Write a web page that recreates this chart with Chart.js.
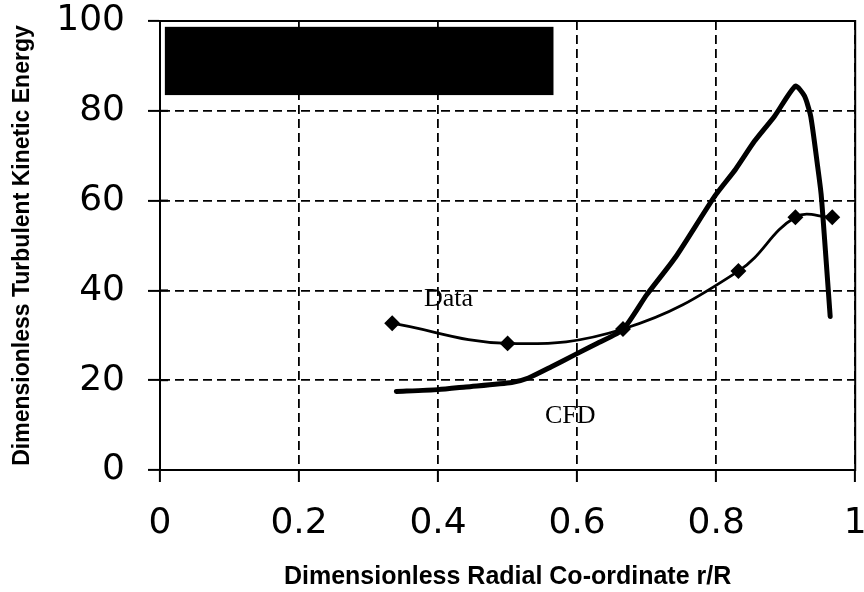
<!DOCTYPE html>
<html>
<head>
<meta charset="utf-8">
<script src="https://cdn.jsdelivr.net/npm/chart.js@4.4.0/dist/chart.umd.min.js"></script>
<style>
  html, body { margin: 0; padding: 0; background: #fff; }
  #marco { width: 864px; height: 592px; }
</style>
</head>
<body>
<div id="marco"><canvas id="plot"></canvas></div>
<script>
// Datos medidos (rombos)
const datosX = [0.334, 0.5, 0.666, 0.832, 0.914, 0.967];
const datosY = [32.7, 28.2, 31.4, 44.3, 56.3, 56.3];

// Curva CFD
const cfdX = [0.34, 0.40, 0.44, 0.506, 0.53, 0.563, 0.597, 0.63, 0.666, 0.70, 0.742, 0.798, 0.828, 0.855, 0.884, 0.914, 0.927, 0.936, 0.946, 0.951, 0.956, 0.964];
const cfdY = [17.5, 17.9, 18.5, 19.5, 20.5, 23.0, 25.7, 28.3, 31.3, 39.0, 47.5, 61.0, 67.0, 73.2, 78.8, 85.5, 83.3, 78.8, 67.6, 61.4, 51.3, 34.2];

// Ticks de los ejes
const ticksX = [0, 0.2, 0.4, 0.6, 0.8, 1];
const ticksY = [0, 20, 40, 60, 80, 100];

// Etiquetas dentro del grafico
const etiquetasTexto = ['Data', 'CFD'];
const etiquetasX = [0.415, 0.590];
const etiquetasY = [36.5, 10.5];

// Caja negra de la leyenda (en unidades de los ejes)
const cajaX = [0.007, 0.566];
const cajaY = [83.5, 98.7];

let puntos = (xs, ys) => xs.map((x, i) => ({x: x, y: ys[i]}));

let extras = {
  id: 'extras',
  afterDatasetsDraw(chart) {
    const {ctx, chartArea: a, scales: {x, y}} = chart;
    ctx.save();
    // caja negra
    ctx.fillStyle = '#000';
    let x0 = x.getPixelForValue(cajaX[0]), x1 = x.getPixelForValue(cajaX[1]);
    let y0 = y.getPixelForValue(cajaY[1]), y1 = y.getPixelForValue(cajaY[0]);
    ctx.fillRect(x0, y0, x1 - x0, y1 - y0);
    // marco solido
    ctx.strokeStyle = '#000';
    ctx.lineWidth = 2;
    ctx.strokeRect(a.left, a.top, a.right - a.left, a.bottom - a.top);
    // ticks hacia adentro en el eje y
    ticksY.forEach(v => {
      let py = y.getPixelForValue(v);
      ctx.beginPath();
      ctx.moveTo(a.left, py);
      ctx.lineTo(a.left + 8, py);
      ctx.stroke();
    });
    // textos
    ctx.fillStyle = '#000';
    ctx.font = '26px "Liberation Serif"';
    ctx.textAlign = 'center';
    ctx.textBaseline = 'alphabetic';
    etiquetasTexto.forEach((t, i) => {
      ctx.fillText(t, x.getPixelForValue(etiquetasX[i]), y.getPixelForValue(etiquetasY[i]));
    });
    ctx.restore();
  }
};

let config = {
  type: 'scatter',
  data: {
    datasets: [
      {
        label: 'Data',
        data: puntos(datosX, datosY),
        showLine: true,
        borderColor: '#000',
        backgroundColor: '#000',
        borderWidth: 2.8,
        tension: 0.4,
        pointStyle: 'rectRot',
        pointRadius: 6,
        pointHoverRadius: 6
      },
      {
        label: 'CFD',
        data: puntos(cfdX, cfdY),
        showLine: true,
        borderColor: '#000',
        borderWidth: 5,
        tension: 0.2,
        pointRadius: 0,
        borderCapStyle: 'round',
        borderJoinStyle: 'round'
      }
    ]
  },
  options: {
    responsive: true,
    maintainAspectRatio: false,
    animation: false,
    layout: { padding: { top: 21, right: 6, left: 0, bottom: 0 } },
    plugins: { legend: { display: false }, tooltip: { enabled: false } },
    scales: {
      x: {
        type: 'linear',
        min: 0, max: 1,
        afterBuildTicks: s => { s.ticks = ticksX.map(v => ({value: v})); },
        afterFit: s => { s.height = 122; s.paddingLeft = 0; s.paddingRight = 0; },
        ticks: {
          color: '#000',
          padding: 20,
          maxRotation: 0,
          font: { family: '"DejaVu Sans"', size: 36 },
          callback: v => String(+v.toFixed(1))
        },
        grid: { color: '#000', lineWidth: 1.8, tickLength: 12, tickWidth: 2 },
        border: { color: '#000', width: 2, dash: [9, 5] },
        title: {
          display: true,
          text: 'Dimensionless Radial Co-ordinate r/R',
          color: '#000',
          padding: { top: 0, bottom: 0 },
          font: { family: '"Liberation Sans"', size: 25, weight: 'bold' }
        }
      },
      y: {
        min: 0, max: 100,
        afterBuildTicks: s => { s.ticks = ticksY.map(v => ({value: v})); },
        afterFit: s => { s.width = 160; s.paddingTop = 0; s.paddingBottom = 0; },
        ticks: {
          color: '#000',
          padding: 23,
          font: { family: '"DejaVu Sans"', size: 36 }
        },
        grid: { color: '#000', lineWidth: 1.8, tickLength: 12, tickWidth: 2 },
        border: { color: '#000', width: 2, dash: [9, 5] },
        title: {
          display: true,
          text: 'Dimensionless Turbulent Kinetic Energy',
          color: '#000',
          padding: { top: 9, bottom: 0 },
          font: { family: '"Liberation Sans"', size: 23, weight: 'bold' }
        }
      }
    }
  },
  plugins: [extras]
};

let chart = new Chart(document.getElementById('plot'), config);
</script>
</body>
</html>
